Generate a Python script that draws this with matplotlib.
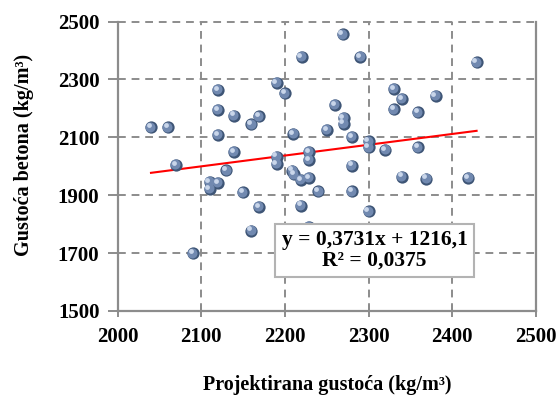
import numpy as np
import matplotlib
matplotlib.use("Agg")
import matplotlib.pyplot as plt
from matplotlib.transforms import offset_copy

# projected density vs measured concrete density
proj = [2040, 2060, 2070, 2090, 2110, 2110, 2120, 2120, 2120, 2120,
        2130, 2139, 2139, 2150, 2160, 2160, 2169, 2169, 2190, 2190,
        2190, 2200, 2209, 2211, 2210, 2220, 2219, 2219, 2229, 2229,
        2229, 2229, 2240, 2250, 2260, 2269, 2270, 2270, 2280, 2280,
        2280, 2290, 2300, 2300, 2300, 2320, 2330, 2330, 2340, 2340,
        2359, 2359, 2369, 2380, 2419, 2429]
gust = [2134, 2134, 2005, 1699, 1945, 1922, 2264, 2195, 2108, 1942,
        1986, 2175, 2049, 1910, 2145, 1778, 2172, 1859, 2287, 2033,
        2008, 2252, 1985, 1972, 2111, 2377, 1953, 1864, 2049, 2022,
        1959, 1790, 1913, 2126, 2211, 2456, 2166, 2147, 2101, 2002,
        1913, 2377, 2086, 2065, 1844, 2057, 2267, 2197, 2232, 1964,
        2186, 2065, 1957, 2243, 1959, 2359]

slope, intercept = 0.3731, 1216.1
r2 = 0.0375

plt.rcParams["font.family"] = ["Liberation Serif", "DejaVu Serif"]
plt.rcParams["font.weight"] = "bold"

grey = "#8c8c8c"
fig = plt.figure(figsize=(5.58, 3.99), dpi=100)
ax = fig.add_axes([0.2106, 0.2206, 0.75, 0.7255])

# sphere-like markers: dark base, lighter body, small highlight
ax.scatter(proj, gust, s=78, color="#3e5576", zorder=3, linewidths=0)
body = offset_copy(ax.transData, fig=fig, x=-0.5, y=0.5, units="points")
ax.scatter(proj, gust, s=52, color="#7189b0", zorder=4, linewidths=0, transform=body)
hl = offset_copy(ax.transData, fig=fig, x=-1.6, y=1.6, units="points")
ax.scatter(proj, gust, s=12, color="#c9d6ea", zorder=5, linewidths=0, transform=hl)

xl = np.array([min(proj), max(proj)])
ax.plot(xl, slope * xl + intercept, color="red", linewidth=1.5, zorder=2)

ax.set_xlim(2000, 2500)
ax.set_ylim(1500, 2500)
ax.set_xticks(range(2000, 2501, 100))
ax.set_yticks(range(1500, 2501, 200))
for v in range(2100, 2500, 100):
    ax.axvline(v, color=grey, linestyle=(0, (4, 3)), linewidth=1.4, zorder=1)
for v in range(1700, 2501, 200):
    ax.axhline(v, color=grey, linestyle=(0, (4, 3)), linewidth=1.4, zorder=1, clip_on=False)

ax.spines["top"].set_visible(False)
for s in ["left", "bottom", "right"]:
    ax.spines[s].set_color(grey)
    ax.spines[s].set_linewidth(1.6)
ax.tick_params(axis="x", direction="inout", length=9, width=1.4, color=grey,
               labelsize=15, pad=7)
ax.tick_params(axis="y", direction="out", length=7, width=1.4, color=grey,
               labelsize=15, pad=6)

ax.set_xlabel("Projektirana gustoća (kg/m³)", fontsize=14.5, fontweight="bold", labelpad=20)
ax.set_ylabel("Gustoća betona (kg/m³)", fontsize=14.5, fontweight="bold", labelpad=19)
ax.yaxis.set_label_coords(-0.2, 0.54)

ax.text(0.614, 0.209, f"y = {slope:.4f}x + {intercept:.1f}\nR² = {r2:.4f}".replace(".", ","),
        transform=ax.transAxes, ha="center", va="center", multialignment="center",
        fontsize=15.5, fontweight="bold", linespacing=1.0, zorder=6,
        bbox=dict(boxstyle="square,pad=0.3", facecolor="white", edgecolor="#b3b3b3", linewidth=1.5))

plt.savefig("out.png", dpi=100)
